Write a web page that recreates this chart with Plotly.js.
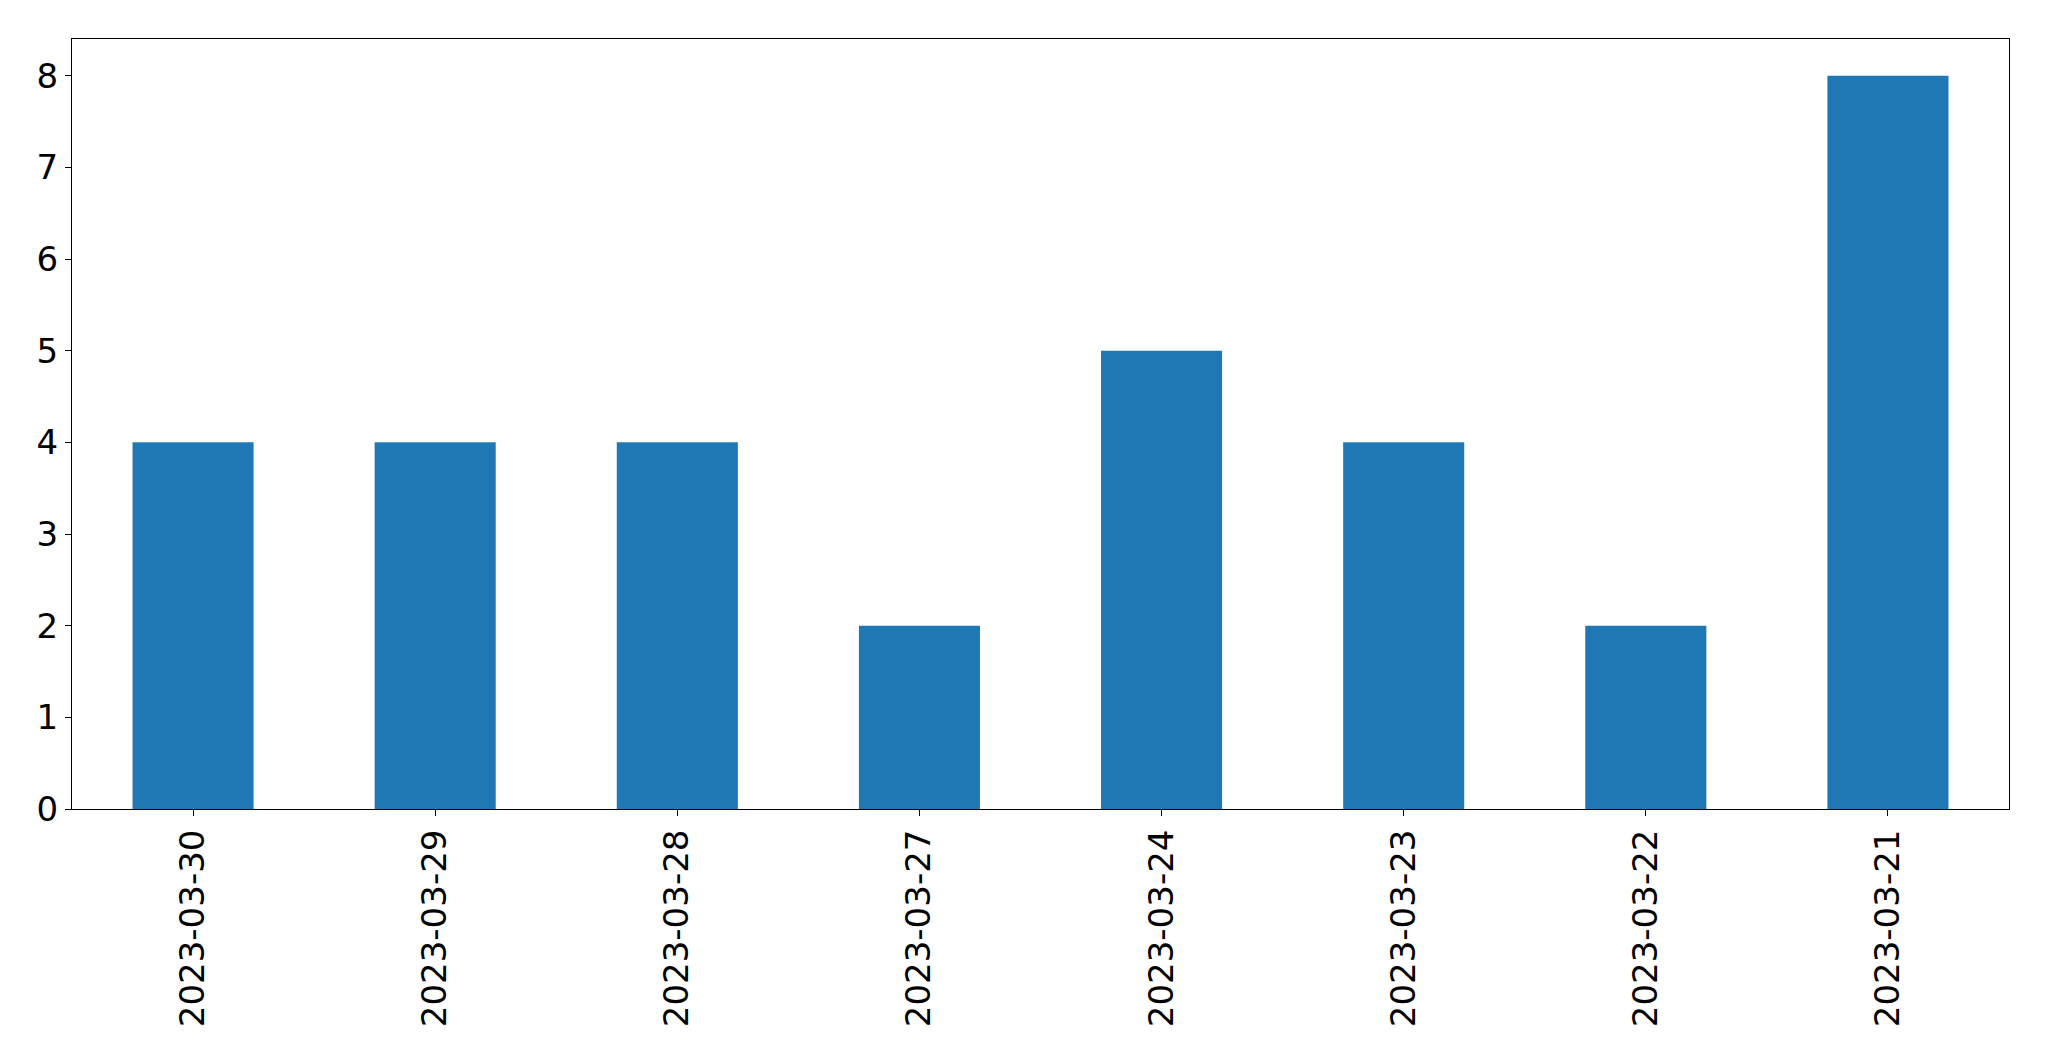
<!DOCTYPE html>
<html>
<head>
<meta charset="utf-8">
<script src="https://cdn.plot.ly/plotly-3.0.1.min.js"></script>
<style>html,body{margin:0;padding:0;background:#fff;}</style>
</head>
<body>
<div id="chart" style="width:2049px;height:1061px;"></div>
<script>
const dates = ["2023-03-30","2023-03-29","2023-03-28","2023-03-27","2023-03-24","2023-03-23","2023-03-22","2023-03-21"];
const counts = [4,4,4,2,5,4,2,8];
const yTicks = [0,1,2,3,4,5,6,7,8];

const trace = {
  type: 'bar',
  x: dates,
  y: counts,
  marker: {color: '#1f77b4', line: {width: 0}},
  hoverinfo: 'skip'
};

const layout = {
  width: 2049,
  height: 1061,
  margin: {l: 72, r: 40, t: 39, b: 252, pad: 0},
  paper_bgcolor: '#ffffff',
  plot_bgcolor: '#ffffff',
  showlegend: false,
  bargap: 0.5,
  font: {family: 'DejaVu Sans', size: 34, color: '#000000'},
  xaxis: {
    type: 'category',
    range: [-0.5, 7.5],
    tickangle: -90,
    ticks: 'outside',
    ticklen: 6,
    tickwidth: 1,
    tickcolor: '#000',
    showline: true,
    linecolor: '#000',
    linewidth: 1,
    mirror: true,
    showgrid: false,
    zeroline: false,
    tickfont: {family: 'DejaVu Sans', size: 34, color: '#000'}
  },
  yaxis: {
    range: [0, 8.4],
    tickvals: yTicks,
    ticktext: yTicks.map(String),
    ticks: 'outside',
    ticklen: 6,
    tickwidth: 1,
    tickcolor: '#000',
    showline: true,
    linecolor: '#000',
    linewidth: 1,
    mirror: true,
    showgrid: false,
    zeroline: false,
    tickfont: {family: 'DejaVu Sans', size: 34, color: '#000'}
  }
};

Plotly.newPlot('chart', [trace], layout, {displayModeBar: false, staticPlot: true});
</script>
</body>
</html>
